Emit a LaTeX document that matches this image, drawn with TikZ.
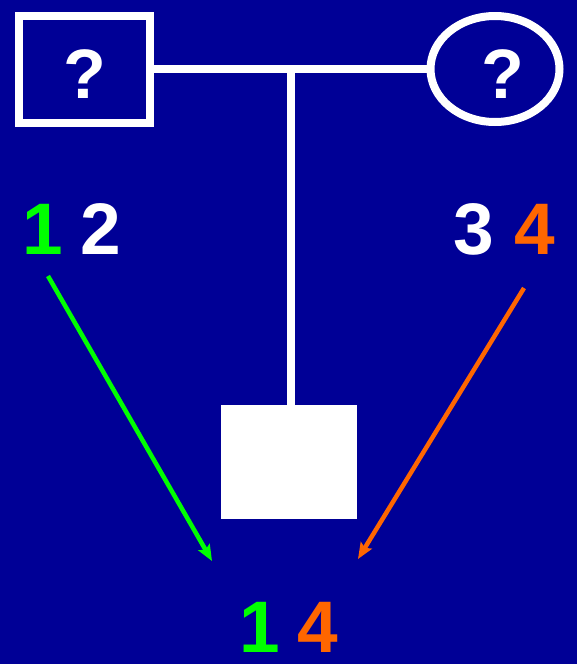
\documentclass[tikz,border=0pt]{standalone}
\usepackage{fontspec}
\setmainfont{Liberation Sans}
\usetikzlibrary{shapes.geometric,arrows.meta}
\definecolor{bgblue}{RGB}{0,0,150}
\definecolor{allele1}{RGB}{0,255,0}
\definecolor{allele4}{RGB}{255,102,0}
\tikzset{
  pedline/.style={draw=white, line width=8pt},
  person/.style={pedline, inner sep=0pt},
  qmark/.style={text=white, font=\fontsize{70}{70}\selectfont\bfseries, inner sep=0pt, anchor=base},
  digit/.style={font=\fontsize{73}{73}\selectfont\bfseries, inner sep=0pt, anchor=base},
  inherit/.style={line width=4.5pt, -{Stealth[length=16pt,width=13pt,inset=3pt]}}
}
\begin{document}
\begin{tikzpicture}[x=1pt,y=-1pt]
  \useasboundingbox (0,0) rectangle (577,664);
  \fill[bgblue] (0,0) rectangle (577,664);

  % parents
  \node[person, rectangle, minimum width=131pt, minimum height=107pt] (father) at (84.5,69) {};
  \node[person, ellipse, minimum width=129pt, minimum height=106pt] (mother) at (495,69) {};
  \node[qmark] (fq) at (85,98) {?};
  \node[qmark] (mq) at (503,98) {?};

  % mating line and line of descent
  \draw[pedline, line cap=rect] (father.east) -- (mother.west);
  \coordinate (m) at (291,69);
  \node[fill=white, inner sep=0pt, minimum width=136pt, minimum height=114pt] (child) at (289,462) {};
  \draw[pedline] (m) -- (m |- child.north);

  % alleles of the parents
  \node[digit, text=allele1] (a1) at (43,254) {1};
  \node[digit, text=white]   (a2) at (101,254) {2};
  \node[digit, text=white]   (a3) at (474,254) {3};
  \node[digit, text=allele4] (a4) at (535,254) {4};

  % alleles of the child
  \node[digit, text=allele1] (c1) at (260,652) {1};
  \node[digit, text=allele4] (c4) at (318,652) {4};

  % transmitted alleles
  \coordinate (gs) at (48,276);
  \coordinate (ge) at (212,561);
  \coordinate (os) at (524,288);
  \coordinate (oe) at (358,559);
  \draw[inherit, allele1] (gs) -- (ge);
  \draw[inherit, allele4] (os) -- (oe);
\end{tikzpicture}
\end{document}
